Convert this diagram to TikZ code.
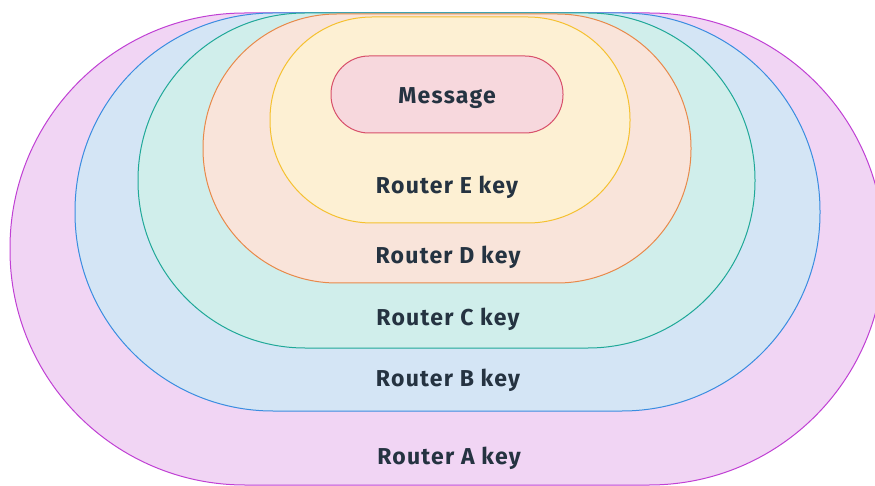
\documentclass[tikz,border=0pt]{standalone}
\usepackage{fontspec}
\setmainfont{Fira Sans}
\newfontfamily\labelfont[LetterSpace=5.5]{Fira Sans}
\definecolor{ink}{HTML}{253341}
\definecolor{aFill}{HTML}{F1D5F4}\definecolor{aLine}{HTML}{C040D4}
\definecolor{bFill}{HTML}{D4E5F5}\definecolor{bLine}{HTML}{3A8DE0}
\definecolor{cFill}{HTML}{D0EEEB}\definecolor{cLine}{HTML}{1FA898}
\definecolor{dFill}{HTML}{F9E4DA}\definecolor{dLine}{HTML}{E8894A}
\definecolor{eFill}{HTML}{FDF0D3}\definecolor{eLine}{HTML}{F5C130}
\definecolor{mFill}{HTML}{F7D8DD}\definecolor{mLine}{HTML}{D8506A}
\begin{document}
\begin{tikzpicture}[x=1pt,y=-1pt,
  layer/.style={draw, line width=1pt, inner sep=0pt, outer sep=0pt},
  keylabel/.style={text=ink, font=\labelfont\fontsize{23}{23}\selectfont\bfseries, anchor=base, inner sep=0pt}]
  \useasboundingbox (0,0) rectangle (875,486);
  \clip (0,0) rectangle (875,486);
  % nested key layers, outermost first
  \node[layer, fill=aFill, draw=aLine, minimum width=874pt, minimum height=472pt, rounded corners=235pt] (A) at (447,249) {};
  \node[layer, fill=bFill, draw=bLine, minimum width=745pt, minimum height=398pt, rounded corners=198pt] (B) at (447.5,212) {};
  \node[layer, fill=cFill, draw=cLine, minimum width=617pt, minimum height=335pt, rounded corners=167pt] (C) at (446.5,180.5) {};
  \node[layer, fill=dFill, draw=dLine, minimum width=488pt, minimum height=269pt, rounded corners=134pt] (D) at (447,148.5) {};
  \node[layer, fill=eFill, draw=eLine, minimum width=360pt, minimum height=206pt, rounded corners=102pt] (E) at (450,120) {};
  \node[layer, fill=mFill, draw=mLine, minimum width=232pt, minimum height=77pt, rounded corners=38pt] (M) at (447,94.5) {};
  % labels
  \node[keylabel] (mtext) at (447,104) {Message};
  \node[keylabel] (etext) at (447,194) {Router E key};
  \node[keylabel] (dtext) at (448,264) {Router D key};
  \node[keylabel] (ctext) at (448,325) {Router C key};
  \node[keylabel] (btext) at (448,386) {Router B key};
  \node[keylabel] (atext) at (449,464) {Router A key};
\end{tikzpicture}
\end{document}
